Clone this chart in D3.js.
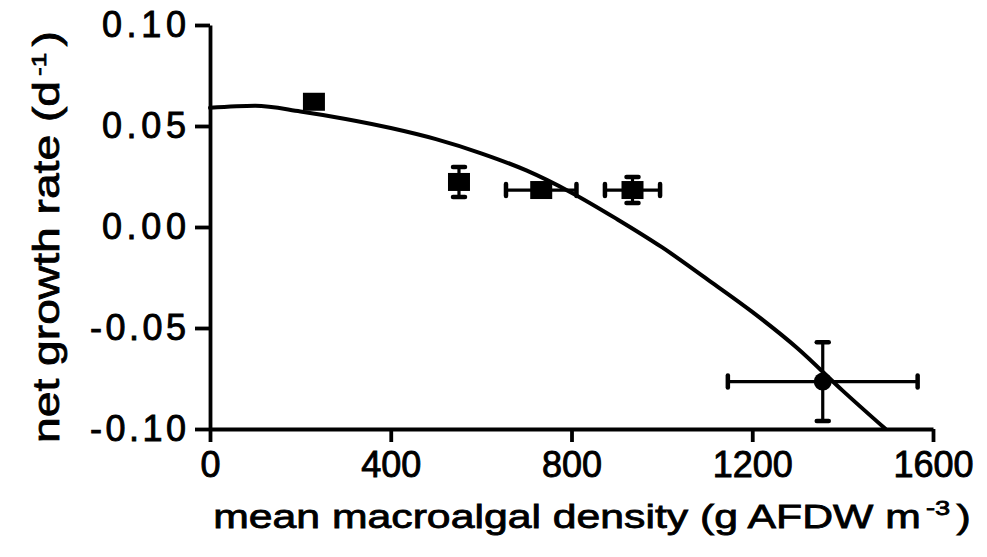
<!DOCTYPE html>
<html>
<head>
<meta charset="utf-8">
<script src="https://cdn.jsdelivr.net/npm/d3@7/dist/d3.min.js"></script>
<style>
  html, body { margin: 0; padding: 0; background: #fff; }
  svg { display: block; }
  text { font-family: "Liberation Sans", Arial, Helvetica, sans-serif; fill: #000; }
</style>
</head>
<body>
<svg id="chart" width="987" height="557"></svg>
<script>
// Mean macroalgal density vs. net growth rate, with error bars
const densityMean = [230, 551, 733, 935, 1356];
const densityErr  = [12, 0, 78, 61, 210];
const growthMean  = [0.062, 0.0223, 0.0183, 0.0183, -0.0765];
const growthErr   = [0.002, 0.0074, 0.003, 0.0064, 0.0195];
const markerShape = ["square", "square", "square", "square", "circle"];

// Fitted response curve, read along its length
const curveX = [0, 100, 200, 300, 400, 500, 600, 700, 800, 900, 1000, 1100, 1200, 1300, 1400, 1495];
const curveY = [0.0590, 0.0600, 0.0572, 0.0535, 0.0490, 0.0435, 0.0365, 0.0280, 0.0170, 0.0040,
                -0.0100, -0.0258, -0.0420, -0.0600, -0.0810, -0.1000];

const xTicks = [0, 400, 800, 1200, 1600];
const yTicks = [-0.10, -0.05, 0.00, 0.05, 0.10];

const svg = d3.select("#chart");
const x = d3.scaleLinear().domain([0, 1600]).range([210, 933]);
const y = d3.scaleLinear().domain([-0.10, 0.10]).range([429, 25]);

// tick labels use a plain hyphen for negatives
const fmtY = v => d3.format(".2f")(v).replace("\u2212", "-");

// Axes
const yAxis = svg.append("g")
  .attr("transform", `translate(${x(0)},0)`)
  .call(d3.axisLeft(y).tickValues(yTicks).tickSize(15).tickSizeOuter(0)
        .tickPadding(9).tickFormat(fmtY));
const xAxis = svg.append("g")
  .attr("transform", `translate(0,${y(-0.10)})`)
  .call(d3.axisBottom(x).tickValues(xTicks).tickSize(13).tickSizeOuter(0)
        .tickPadding(9).tickFormat(d3.format("d")));

[yAxis, xAxis].forEach(g => {
  g.select(".domain").attr("stroke", "#000").attr("stroke-width", 3.8);
  g.selectAll(".tick line").attr("stroke", "#000").attr("stroke-width", 3.8);
  g.selectAll(".tick text")
    .style("font-size", "36px")
    .attr("fill", "#000").attr("stroke", "#000").attr("stroke-width", 0.9);
});
// the value labels sit a little wider around the decimal point
yAxis.selectAll(".tick text").each(function () {
  const len = this.getComputedTextLength();
  d3.select(this).attr("textLength", len + 14).attr("lengthAdjust", "spacing");
});

// Curve
const pts = curveX.map((d, i) => [d, curveY[i]]);
svg.append("path")
  .datum(pts)
  .attr("fill", "none")
  .attr("stroke", "#000")
  .attr("stroke-width", 4)
  .attr("stroke-linecap", "round")
  .attr("d", d3.line().x(d => x(d[0])).y(d => y(d[1])).curve(d3.curveMonotoneX));

// Error bars and markers
const data = densityMean.map((d, i) => ({
  x: d, xe: densityErr[i], y: growthMean[i], ye: growthErr[i], shape: markerShape[i]
}));
const capLen = 6;
const pg = svg.append("g").attr("stroke", "#000");
data.forEach(d => {
  const cx = x(d.x), cy = y(d.y);
  if (d.xe > 0) {
    pg.append("line").attr("x1", x(d.x - d.xe)).attr("x2", x(d.x + d.xe))
      .attr("y1", cy).attr("y2", cy).attr("stroke-width", 3.2);
    [d.x - d.xe, d.x + d.xe].forEach(v => {
      pg.append("line").attr("x1", x(v)).attr("x2", x(v))
        .attr("y1", cy - capLen).attr("y2", cy + capLen)
        .attr("stroke-width", 4.5).attr("stroke-linecap", "round");
    });
  }
  if (d.ye > 0) {
    pg.append("line").attr("x1", cx).attr("x2", cx)
      .attr("y1", y(d.y - d.ye)).attr("y2", y(d.y + d.ye)).attr("stroke-width", 3.2);
    [d.y - d.ye, d.y + d.ye].forEach(v => {
      pg.append("line").attr("x1", cx - capLen).attr("x2", cx + capLen)
        .attr("y1", y(v)).attr("y2", y(v))
        .attr("stroke-width", 4.5).attr("stroke-linecap", "round");
    });
  }
  if (d.shape === "square") {
    pg.append("rect").attr("x", cx - 11).attr("y", cy - 9)
      .attr("width", 22).attr("height", 18).attr("fill", "#000").attr("stroke", "none");
  } else {
    pg.append("circle").attr("cx", cx).attr("cy", cy).attr("r", 9)
      .attr("fill", "#000").attr("stroke", "none");
  }
});

// Axis titles (set in a wide face, so they are drawn stretched along their length)
function titleText(g, main, sup, size) {
  const t = g.append("text").attr("text-anchor", "middle")
    .style("font-size", size + "px")
    .attr("stroke", "#000").attr("stroke-width", 0.8);
  t.append("tspan").text(main);
  t.append("tspan").attr("dy", -13).attr("dx", 4).style("font-size", "21px").text(sup);
  t.append("tspan").attr("dy", 13).attr("dx", 5).text(")");
  return t;
}
function fitWidth(t, target) {
  const w = t.node().getBBox().width;
  t.attr("transform", `scale(${target / w},1)`);
}

const xTitleG = svg.append("g").attr("transform", "translate(592,528)");
const xTitle = titleText(xTitleG, "mean macroalgal density (g AFDW m", "-3", 33);
fitWidth(xTitle, 758);

const yTitleG = svg.append("g").attr("transform", "translate(59,237) rotate(-90)");
const yTitle = titleText(yTitleG, "net growth rate (d", "-1", 37);
fitWidth(yTitle, 412);
</script>
</body>
</html>
